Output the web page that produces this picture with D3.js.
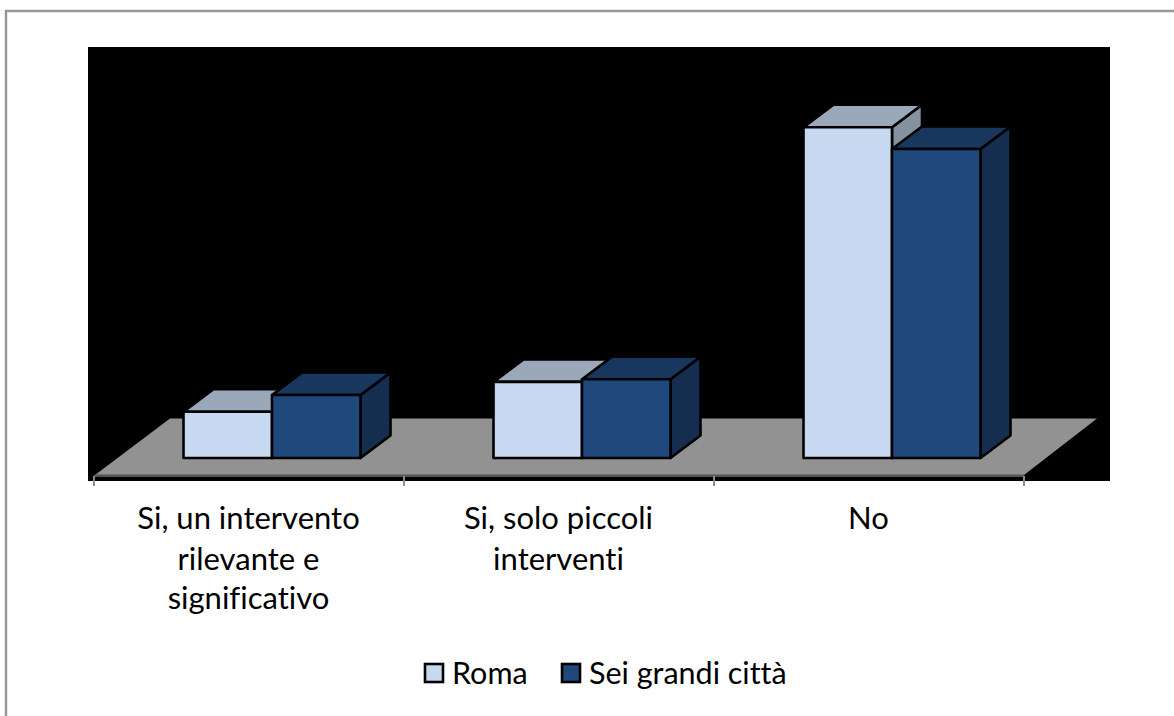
<!DOCTYPE html>
<html><head><meta charset="utf-8">
<script src="https://cdnjs.cloudflare.com/ajax/libs/d3/7.8.5/d3.min.js"></script>
<style>html,body{margin:0;padding:0;background:#fff}svg{display:block}text{font-family:Lato,"Open Sans",sans-serif;fill:#000;font-variant-ligatures:none}</style>
</head><body><div id="c"></div>
<script>
const categories = ["Si, un intervento rilevante e significativo","Si, solo piccoli interventi","No"];
const categoryLines = [["Si, un intervento","rilevante e","significativo"],["Si, solo piccoli","interventi"],["No"]];
const seriesNames = ["Roma","Sei grandi città"];
const roma = [10.2,16.8,73];
const seiGrandi = [13.9,17.4,68.2];

const W=1174,H=716;
const frontFill=["#c6d9f0","#1f497d"], topFill=["#9aa8ba","#17375e"], sideFill=["#84929f","#152e4f"];
const svg=d3.select("#c").append("svg").attr("width",W).attr("height",H);
svg.append("path").attr("d","M6,716V11H1174").attr("fill","none").attr("stroke","#969696").attr("stroke-width",2.4);
svg.append("rect").attr("x",88).attr("y",47).attr("width",1022).attr("height",434).attr("fill","#000");

const x0=d3.scaleBand().domain(categories).range([94,1024]);
const x1=d3.scaleBand().domain(seriesNames).range([89.5,266.5]);
const y=d3.scaleLinear().domain([0,100]).range([458,5]);
const dx=30,dy=-22.5;
const path=p=>"M"+p.map(a=>a.join(",")).join("L")+"Z";

// floor
svg.append("path").attr("d",path([[95,475],[1024,475],[1097,418.5],[170,418.5]])).attr("fill","#929292");
svg.append("rect").attr("x",94).attr("y",474.5).attr("width",930).attr("height",2.5).attr("fill","#555");

// axis ticks and labels
const ax=d3.range(categories.length+1).map(i=>94+i*x0.step());
svg.selectAll("line.t").data(ax).join("line").attr("class","t").attr("x1",d=>d).attr("x2",d=>d).attr("y1",476).attr("y2",486).attr("stroke","#8c8c8c").attr("stroke-width",2);
const lineY=[529,570,609];
categories.forEach((c,i)=>{
  const t=svg.append("text").attr("text-anchor","middle").attr("font-size",31);
  categoryLines[i].forEach((l,j)=>t.append("tspan").attr("x",x0(c)+x0.bandwidth()/2-0.5).attr("y",lineY[j]).text(l));
});

// bars (back to front, left to right)
const stroke={stroke:"#000","stroke-width":2.6,"stroke-linejoin":"round"};
const sty=(s)=>{for(const k in stroke)s.attr(k,stroke[k]);return s;};
const values=[roma,seiGrandi];
categories.forEach((c,i)=>{
  seriesNames.forEach((s,k)=>{
    const l=x0(c)+x1(s), r=l+x1.bandwidth(), b=y(0), t=y(values[k][i]);
    const g=svg.append("g");
    sty(g.append("path").attr("d",path([[r,t],[r+dx,t+dy],[r+dx,b+dy],[r,b]])).attr("fill",sideFill[k]));
    sty(g.append("path").attr("d",path([[l,t],[l+dx,t+dy],[r+dx,t+dy],[r,t]])).attr("fill",topFill[k]));
    sty(g.append("rect").attr("x",l).attr("y",t).attr("width",r-l).attr("height",b-t).attr("fill",frontFill[k]));
  });
});

// legend
const legX=[425,562], legT=[452,589];
seriesNames.forEach((s,k)=>{
  svg.append("rect").attr("x",legX[k]).attr("y",664).attr("width",18).attr("height",18).attr("fill",frontFill[k]).attr("stroke","#000").attr("stroke-width",2.6);
  svg.append("text").attr("x",legT[k]).attr("y",684).attr("font-size",30.5).text(s);
});
</script></body></html>
